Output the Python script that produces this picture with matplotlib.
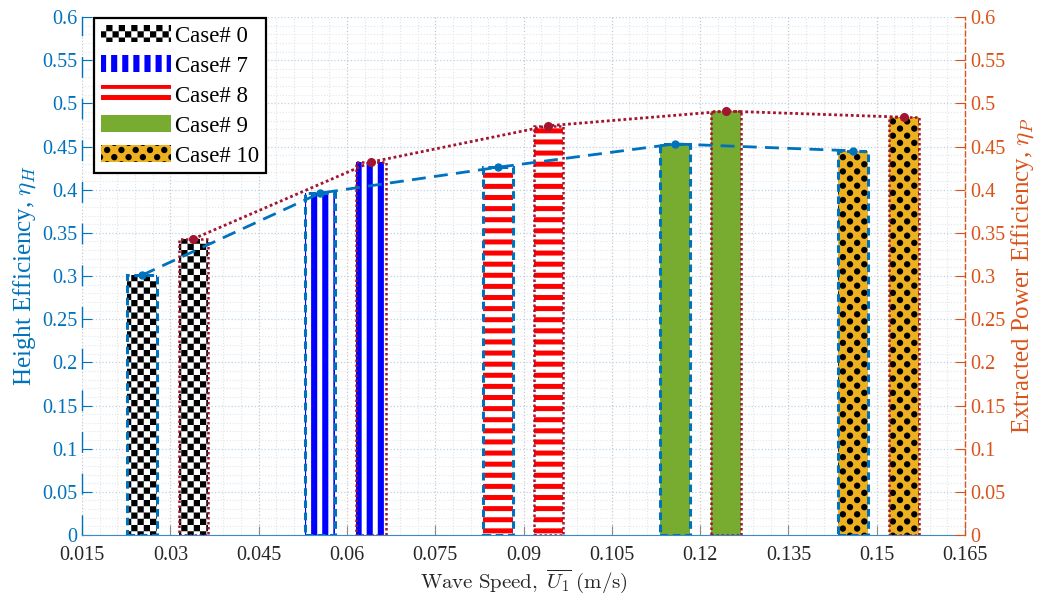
import warnings
import numpy as np
import matplotlib
matplotlib.use('Agg')
import matplotlib.pyplot as plt
import matplotlib.hatch as mhatch
from matplotlib.path import Path
from matplotlib.ticker import MultipleLocator, AutoMinorLocator, FuncFormatter

warnings.filterwarnings('ignore')

# Datos
cases = ['Case# 0', 'Case# 7', 'Case# 8', 'Case# 9', 'Case# 10']
u_h = [0.0252, 0.0554, 0.0857, 0.1157, 0.1460]   # posicion barras eta_H
u_p = [0.0339, 0.0641, 0.0942, 0.1244, 0.1546]   # posicion barras eta_P
eta_h = [0.301, 0.396, 0.426, 0.453, 0.445]
eta_p = [0.343, 0.432, 0.474, 0.491, 0.484]
bar_w = 0.005

face_colors = ['white', 'white', 'white', '#77AC30', '#EDB120']
hatch_colors = ['black', '#0000FF', '#FF0000', '#77AC30', 'black']
hatches = ['C', 'V', 'H', None, 'D']

BLUE = '#0072BD'
ORANGE = '#D95319'
WINE = '#A2142F'


# Patrones de relleno propios (tablero, rayas, puntos) en una celda de 1 pulgada
def to_path(polys):
    verts, codes = [], []
    for poly in polys:
        verts += list(poly) + [poly[0]]
        codes += [Path.MOVETO] + [Path.LINETO] * (len(poly) - 1) + [Path.CLOSEPOLY]
    return np.array(verts, float), np.array(codes, Path.code_type)


def checker(n=16):
    s = 1.0 / n
    return [[(i * s, j * s), ((i + 1) * s, j * s), ((i + 1) * s, (j + 1) * s), (i * s, (j + 1) * s)]
            for i in range(n) for j in range(n) if (i + j) % 2 == 0]


def vstripes(n=9, frac=0.55):
    s = 1.0 / n
    w = s * frac
    return [[(i * s, 0), (i * s + w, 0), (i * s + w, 1), (i * s, 1)] for i in range(n)]


def hstripes(n=9, frac=0.45):
    s = 1.0 / n
    w = s * frac
    return [[(0, j * s), (1, j * s), (1, j * s + w), (0, j * s + w)] for j in range(n)]


def dots(rows=14, cols=7, r=0.032):
    t = np.linspace(0, 2 * np.pi, 17)[:-1]
    polys = []
    for j in range(rows + 1):
        for i in range(cols + 1):
            cx = (i + 0.5 * (j % 2)) / cols
            cy = j / rows
            polys.append(list(zip(cx + r * np.cos(t), cy + r * np.sin(t))))
    return polys


class TileHatch(mhatch.HatchPatternBase):
    shapes = {'C': to_path(checker()), 'V': to_path(vstripes()),
              'H': to_path(hstripes()), 'D': to_path(dots())}

    def __init__(self, hatch, density):
        key = next((c for c in hatch if c in self.shapes), None)
        if key is None:
            self.num_vertices = 0
        else:
            self.verts, self.codes = self.shapes[key]
            self.num_vertices = len(self.verts)

    def set_vertices_and_codes(self, vertices, codes):
        vertices[:] = self.verts
        codes[:] = self.codes


mhatch._hatch_types.append(TileHatch)

plt.rcParams['hatch.linewidth'] = 0.0
plt.rcParams['font.family'] = ['Liberation Serif', 'DejaVu Serif']
plt.rcParams['mathtext.fontset'] = 'cm'

fig = plt.figure(figsize=(10.37, 5.95), dpi=100)
ax = fig.add_axes([0.0791, 0.1008, 0.8515, 0.8706])
ax.set_axisbelow(True)

handles = []
for i in range(len(cases)):
    # relleno con patron
    bh = ax.bar(u_h[i], eta_h[i], width=bar_w, color=face_colors[i],
                edgecolor=hatch_colors[i], linewidth=0, hatch=hatches[i], zorder=2)
    ax.bar(u_p[i], eta_p[i], width=bar_w, color=face_colors[i],
           edgecolor=hatch_colors[i], linewidth=0, hatch=hatches[i], zorder=2)
    handles.append(bh[0])
    # bordes
    ax.bar(u_h[i], eta_h[i], width=bar_w, fill=False, edgecolor=BLUE,
           linewidth=2.2, linestyle=(0, (2.5, 1.5)), zorder=3)
    ax.bar(u_p[i], eta_p[i], width=bar_w, fill=False, edgecolor=WINE,
           linewidth=1.8, linestyle=(0, (1, 1)), zorder=3)

ax.plot(u_h, eta_h, color=BLUE, linewidth=2.0, linestyle=(0, (5, 3)),
        marker='o', markersize=5, zorder=4)
ax.plot(u_p, eta_p, color=WINE, linewidth=2.0, linestyle=(0, (1, 1)),
        marker='o', markersize=5.5, zorder=4)

ax.set_xlim(0.015, 0.165)
ax.set_ylim(0, 0.6)
fmt = FuncFormatter(lambda v, pos: f'{round(v, 4):g}')
ax.xaxis.set_major_locator(MultipleLocator(0.015))
ax.yaxis.set_major_locator(MultipleLocator(0.05))
ax.xaxis.set_major_formatter(fmt)
ax.yaxis.set_major_formatter(fmt)
ax.xaxis.set_minor_locator(AutoMinorLocator(5))
ax.yaxis.set_minor_locator(AutoMinorLocator(5))

ax.grid(True, which='major', axis='x', color='#c8c8c8', linestyle=':', linewidth=0.9)
ax.grid(True, which='minor', axis='x', color='#e2e2e2', linestyle=':', linewidth=0.8)
ax.grid(True, which='major', axis='y', color='#bcd3e8', linestyle=':', linewidth=0.9)
ax.grid(True, which='minor', axis='y', color='#dde8f2', linestyle=':', linewidth=0.8)

ax.tick_params(axis='x', which='major', direction='in', length=7, width=0.8,
               color='#888888', labelcolor='#262626', labelsize=14.5, pad=8)
ax.tick_params(axis='y', which='major', direction='in', length=7, width=0.8,
               color=BLUE, labelcolor=BLUE, labelsize=14.5)
ax.tick_params(which='minor', length=0)

for s in ['top', 'right']:
    ax.spines[s].set_visible(False)
ax.spines['bottom'].set_color('#3a8cc8')
ax.spines['left'].set_color(BLUE)
ax.spines['left'].set_linewidth(1.0)
ax.spines['left'].set_linestyle((0, (14, 16)))

ax.set_xlabel(r'$\mathrm{Wave\ Speed,}\ \overline{U_1}\ \mathrm{(m/s)}$',
              fontsize=15, color='#262626', labelpad=2)
ax.set_ylabel(r'Height Efficiency, $\eta_H$', fontsize=18, color=BLUE, labelpad=3)

ax2 = ax.twinx()
ax2.set_ylim(0, 0.6)
ax2.yaxis.set_major_locator(MultipleLocator(0.05))
ax2.yaxis.set_major_formatter(fmt)
ax2.tick_params(axis='y', direction='in', length=7, width=0.8,
                color=ORANGE, labelcolor=ORANGE, labelsize=14.5)
for s in ['top', 'left', 'bottom']:
    ax2.spines[s].set_visible(False)
ax2.spines['right'].set_color(ORANGE)
ax2.spines['right'].set_linewidth(1.0)
ax2.spines['right'].set_linestyle((0, (3.6, 2.2)))
ax2.set_ylabel(r'Extracted Power Efficiency, $\eta_P$', fontsize=18, color=ORANGE, labelpad=3)

leg = ax2.legend(handles, cases, loc='upper left', bbox_to_anchor=(0.0136, 0.998),
                 borderaxespad=0, fontsize=16.5, handlelength=3.05, handleheight=0.8,
                 labelspacing=0.36, handletextpad=0.2, borderpad=0.3,
                 fancybox=False, framealpha=1, edgecolor='black')
leg.get_frame().set_linewidth(1.6)

fig.savefig('out.png', dpi=100)
